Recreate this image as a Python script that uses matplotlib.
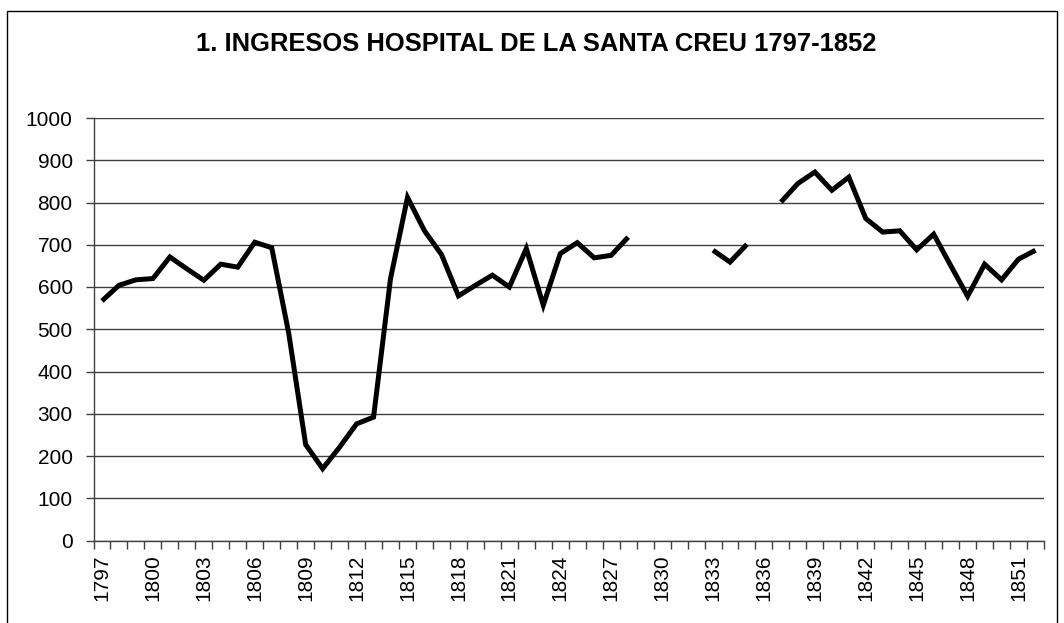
import numpy as np
import matplotlib
matplotlib.use("Agg")
import matplotlib.pyplot as plt
from matplotlib.patches import Rectangle

plt.rcParams['font.family'] = ['Liberation Sans', 'DejaVu Sans']

title = "1. INGRESOS HOSPITAL DE LA SANTA CREU 1797-1852"
years = list(range(1797, 1853))
nan = np.nan
ingresos = [
    567, 604, 617, 620, 671, 643, 616, 654, 647, 706,   # 1797-1806
    693, 491, 227, 170, 221, 276, 292, 620, 812, 733,   # 1807-1816
    677, 579, 604, 628, 600, 691, 557, 679, 705, 669,   # 1817-1826
    675, 718, nan, nan, nan, nan, 687, 659, 701, nan,   # 1827-1836
    801, 845, 872, 829, 860, 762, 730, 733, 688, 725,   # 1837-1846
    651, 578, 654, 617, 666, 687,                       # 1847-1852
]
yticks = list(range(0, 1001, 100))

fig = plt.figure(figsize=(10.64, 6.23), dpi=100)
fig.patches.append(Rectangle((7/1064, -0.05), (1057-7)/1064, 1.05 - 11/623,
                             transform=fig.transFigure, fill=False,
                             edgecolor='black', linewidth=1.0))
ax = fig.add_axes([93.5/1064, 1 - 540.5/623, (1044 - 93.5)/1064, (540.5 - 118)/623])

x = np.arange(len(years))
ax.plot(x, ingresos, color='black', linewidth=3.6, solid_joinstyle='miter',
        solid_capstyle='butt')

ax.set_xlim(-0.5, len(years) - 0.5)
ax.set_ylim(0, 1000)
ax.set_yticks(yticks)
ax.set_yticklabels([str(v) for v in yticks], fontsize=15)
ax.yaxis.grid(True, color='#404040', linewidth=1.0)
ax.set_axisbelow(True)

lab_pos = x[::3]
ax.set_xticks(lab_pos)
ax.set_xticklabels([str(years[i]) for i in lab_pos], rotation=90, fontsize=15)
ax.set_xticks(np.arange(-0.5, len(years)), minor=True)
ax.tick_params(axis='x', which='major', length=0, pad=10)
ax.tick_params(axis='x', which='minor', length=6, width=1, color='#404040', direction='out')
ax.tick_params(axis='y', length=6, width=1, color='#404040', pad=9)

for s in ['top', 'right']:
    ax.spines[s].set_visible(False)
for s in ['left', 'bottom']:
    ax.spines[s].set_color('#404040')
    ax.spines[s].set_linewidth(1.0)

fig.text(536/1064, 1 - 44/623, title, ha='center', va='center',
         fontsize=18.4, fontweight='bold')

fig.savefig('out.png', dpi=100)
